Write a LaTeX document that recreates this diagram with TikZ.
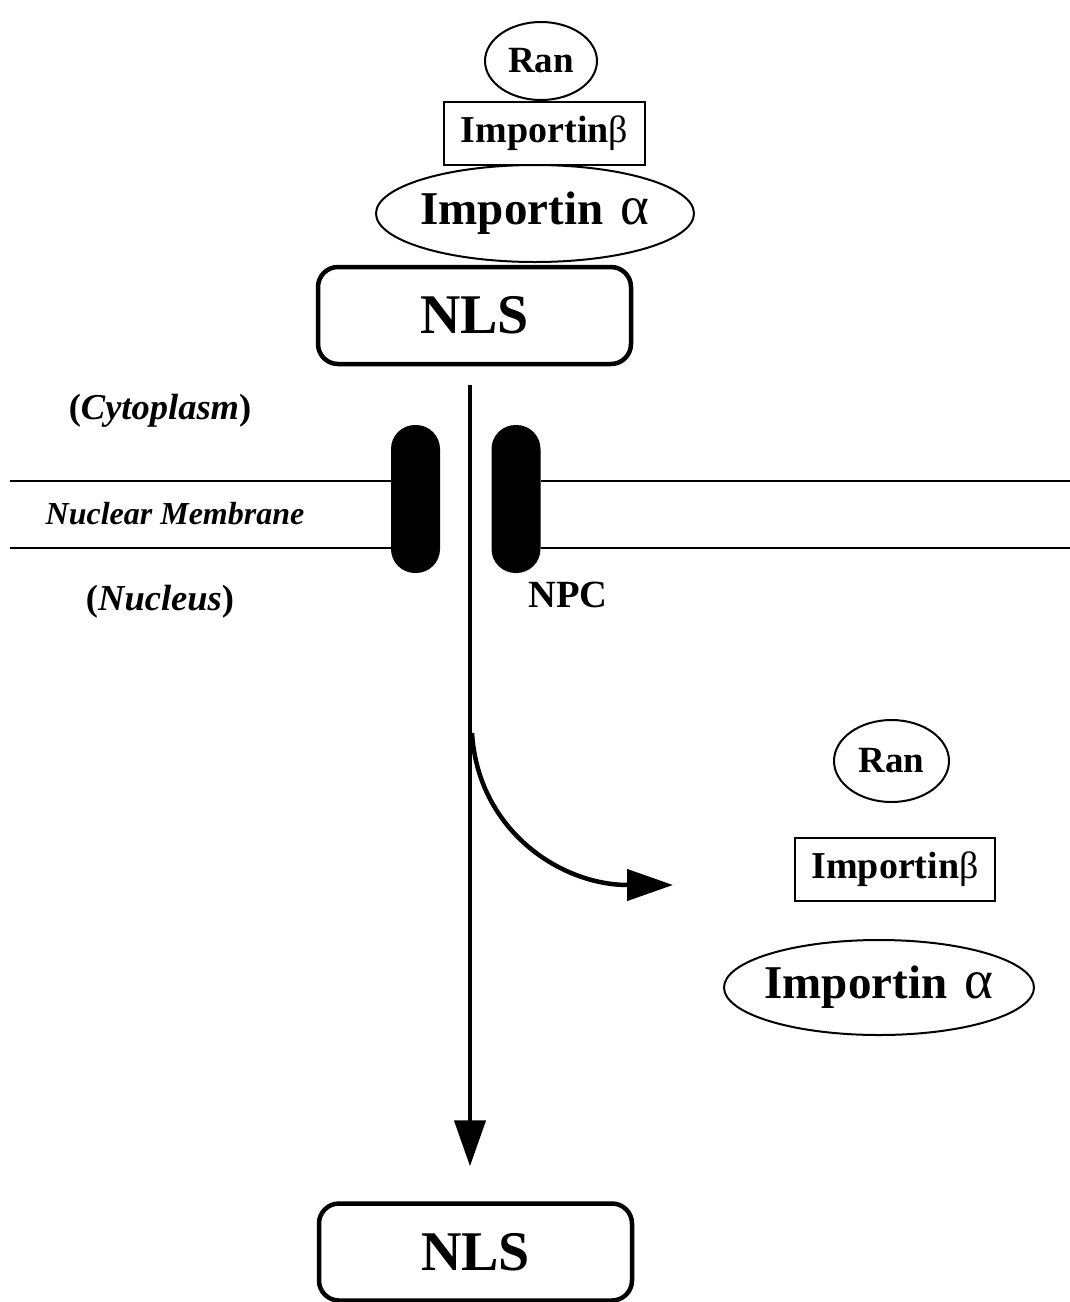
\documentclass[tikz,border=0pt]{standalone}
\usepackage{fontspec}
\setmainfont{Liberation Serif}
\usetikzlibrary{arrows.meta,shapes.geometric}
\newcommand{\bigalpha}{\hspace{0.12em}{\mdseries\fontsize{55}{55}\selectfont α}}
\begin{document}
\begin{tikzpicture}[x=1pt,y=-1pt,
  ell/.style={draw,ellipse,line width=2pt,inner sep=0pt},
  boxb/.style={draw,rectangle,line width=2pt,inner sep=0pt},
  nlsbox/.style={draw,rounded corners=20pt,line width=4.5pt,minimum width=313pt,minimum height=97pt,inner sep=0pt,font=\fontsize{56}{60}\selectfont\bfseries},
  pill/.style={fill=black,rounded corners=24pt,minimum width=49pt,minimum height=148pt,inner sep=0pt},
  memb/.style={line width=2pt},
  flow/.style={line width=4.5pt,-{Triangle[length=46pt,width=31pt]}},
  ranf/.style={font=\fontsize{37}{40}\selectfont\bfseries},
  ibf/.style={font=\fontsize{38}{40}\selectfont\bfseries},
  iaf/.style={font=\fontsize{47}{50}\selectfont\bfseries},
  lab/.style={font=\fontsize{36.5}{38}\selectfont\bfseries},
]
\useasboundingbox (0,0) rectangle (1070,1302);

% top complex
\node[ell,minimum width=112pt,minimum height=78pt,label={[ranf]center:Ran}] (ran1) at (541,61) {};
\node[boxb,minimum width=201pt,minimum height=63pt,label={[ibf]center:Importin{\mdseries β}}] (ib1) at (544.5,133.5) {};
\node[ell,minimum width=318pt,minimum height=97pt,label={[iaf]center:Importin \bigalpha}] (ia1) at (535,213.5) {};
\node[nlsbox] (nls1) at (474.5,315.5) {NLS};

% membrane and NPC
\node[pill] (npcL) at (415.5,499) {};
\node[pill] (npcR) at (516,499) {};
\coordinate (mLa) at (10,481);
\coordinate (mLb) at (10,548);
\coordinate (mRa) at (1070,481);
\coordinate (mRb) at (1070,548);
\draw[memb] (mLa) -- (npcL.west |- mLa);
\draw[memb] (mLb) -- (npcL.west |- mLb);
\draw[memb] (npcR.east |- mRa) -- (mRa);
\draw[memb] (npcR.east |- mRb) -- (mRb);

\node[lab] (cyto) at (160,411) {(\textit{Cytoplasm})};
\node[font=\fontsize{32}{34}\selectfont\bfseries\itshape] (memlab) at (175,514) {Nuclear Membrane};
\node[lab] (nucl) at (160,602) {(\textit{Nucleus})};
\node[font=\fontsize{38.5}{40}\selectfont\bfseries] (npclab) at (568,595) {NPC};

% bottom NLS
\node[nlsbox] (nls2) at (475.5,1252) {NLS};

% arrows
\coordinate (axis) at (470,0);
\coordinate (vs) at (nls1.south -| axis);
\coordinate (ve) at (nls2.north -| axis);
\draw[flow,shorten <=19pt,shorten >=35pt] (vs) -- (ve);
\coordinate (branch) at (472,733);
\coordinate (cend) at (673,885);
\draw[flow] (branch) .. controls (478,830) and (560,885) .. (cend);

% released complex
\node[ell,minimum width=115pt,minimum height=82pt,label={[ranf]center:Ran}] (ran2) at (891.5,761) {};
\node[boxb,minimum width=200pt,minimum height=63pt,label={[ibf]center:Importin{\mdseries β}}] (ib2) at (895,869.5) {};
\node[ell,minimum width=310pt,minimum height=95pt,label={[iaf]center:Importin \bigalpha}] (ia2) at (879,987.5) {};
\end{tikzpicture}
\end{document}
